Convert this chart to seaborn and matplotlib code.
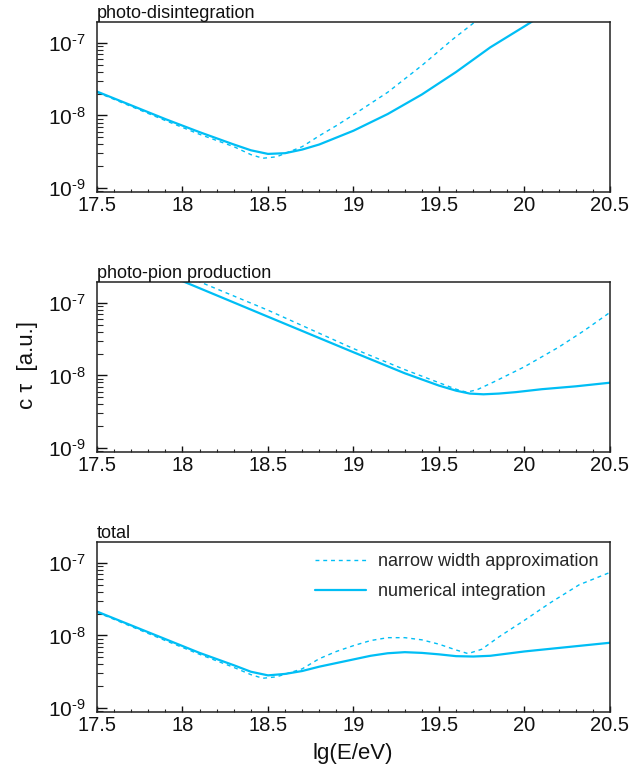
import numpy as np
import pandas as pd
import matplotlib
matplotlib.use("Agg")
import matplotlib.pyplot as plt
from matplotlib.ticker import MultipleLocator, FuncFormatter, LogLocator, NullFormatter, FixedLocator
import seaborn as sns

# ---- data: lg(E/eV) and log10(c*tau) for each process ----
# photo-disintegration
pd_num_lgE = [17.5, 17.7, 17.9, 18.1, 18.3, 18.4, 18.5, 18.6, 18.7, 18.8, 19.0, 19.2, 19.4, 19.6, 19.8, 20.0, 20.1]
pd_num_lgct = [-7.67, -7.86, -8.05, -8.23, -8.40, -8.48, -8.53, -8.52, -8.47, -8.40, -8.21, -7.98, -7.71, -7.40, -7.06, -6.77, -6.62]
pd_nwa_lgE = [17.5, 17.9, 18.1, 18.3, 18.4, 18.47, 18.55, 18.7, 18.8, 18.9, 19.0, 19.2, 19.4, 19.58, 19.71, 19.8]
pd_nwa_lgct = [-7.68, -8.07, -8.26, -8.43, -8.54, -8.59, -8.57, -8.43, -8.28, -8.14, -7.99, -7.68, -7.31, -6.95, -6.71, -6.55]

# photo-pion production
pi_num_lgE = [17.9, 18.5, 19.0, 19.3, 19.5, 19.6, 19.68, 19.76, 19.85, 19.95, 20.1, 20.3, 20.5]
pi_num_lgct = [-6.60, -7.19, -7.68, -7.97, -8.14, -8.21, -8.25, -8.26, -8.25, -8.23, -8.19, -8.15, -8.10]
pi_nwa_lgE = [18.0, 18.5, 19.0, 19.3, 19.5, 19.6, 19.66, 19.72, 19.82, 20.0, 20.2, 20.35, 20.5]
pi_nwa_lgct = [-6.61, -7.10, -7.63, -7.92, -8.10, -8.19, -8.23, -8.20, -8.09, -7.88, -7.61, -7.38, -7.13]

# total
tot_num_lgE = [17.5, 17.9, 18.1, 18.3, 18.4, 18.5, 18.6, 18.7, 18.8, 18.9, 19.0, 19.1, 19.2, 19.3,
               19.4, 19.5, 19.6, 19.7, 19.8, 19.9, 20.0, 20.25, 20.5]
tot_num_lgct = [-7.67, -8.05, -8.24, -8.41, -8.50, -8.55, -8.53, -8.49, -8.43, -8.38, -8.33, -8.28, -8.245, -8.23,
                -8.24, -8.26, -8.285, -8.29, -8.28, -8.25, -8.22, -8.16, -8.10]
tot_nwa_lgE = [17.5, 17.9, 18.1, 18.3, 18.4, 18.47, 18.55, 18.7, 18.8, 18.9, 19.0, 19.1, 19.2, 19.3,
               19.4, 19.5, 19.6, 19.67, 19.75, 19.85, 20.0, 20.15, 20.32, 20.5]
tot_nwa_lgct = [-7.68, -8.07, -8.26, -8.44, -8.54, -8.59, -8.57, -8.46, -8.32, -8.22, -8.14, -8.07, -8.03, -8.03,
                -8.06, -8.12, -8.20, -8.25, -8.19, -8.02, -7.79, -7.55, -7.30, -7.13]

panel_titles = ["photo-disintegration", "photo-pion production", "total"]
method_labels = ["narrow width approximation", "numerical integration"]
x_ticks = [17.5, 18.0, 18.5, 19.0, 19.5, 20.0, 20.5]
y_decades = [-9, -8, -7]

panels = [
    ((pd_nwa_lgE, pd_nwa_lgct), (pd_num_lgE, pd_num_lgct)),
    ((pi_nwa_lgE, pi_nwa_lgct), (pi_num_lgE, pi_num_lgct)),
    ((tot_nwa_lgE, tot_nwa_lgct), (tot_num_lgE, tot_num_lgct)),
]

sns.set_theme(style="ticks")
plt.rcParams["font.family"] = ["Liberation Sans", "DejaVu Sans"]
plt.rcParams["mathtext.fontset"] = "custom"
plt.rcParams["mathtext.rm"] = "Liberation Sans"
plt.rcParams["mathtext.it"] = "Liberation Sans:italic"
plt.rcParams["mathtext.default"] = "regular"


def decade_label(v, pos):
    e = int(round(np.log10(v)))
    sign = "\u2010" if e < 0 else ""
    return "$10^{" + sign + str(abs(e)) + "}$"


line_color = "#00BEF5"
fig = plt.figure(figsize=(6.44, 7.68), dpi=100)

left, width, height = 0.1506, 0.7966, 0.2214
bottoms = [0.750, 0.4115, 0.0729]

axes = []
for i, (bottom, title, (nwa, num)) in enumerate(zip(bottoms, panel_titles, panels)):
    ax = fig.add_axes([left, bottom, width, height])
    df_nwa = pd.DataFrame({"lgE": nwa[0], "ctau": np.power(10.0, nwa[1])})
    df_num = pd.DataFrame({"lgE": num[0], "ctau": np.power(10.0, num[1])})
    sns.lineplot(data=df_nwa, x="lgE", y="ctau", ax=ax, color=line_color, lw=1.0,
                 linestyle=(0, (2.8, 2.8)), legend=False, sort=False)
    sns.lineplot(data=df_num, x="lgE", y="ctau", ax=ax, color=line_color, lw=1.6,
                 legend=False, sort=False)
    ax.set_yscale("log")
    ax.set_xlim(17.5, 20.5)
    ax.set_ylim(8.8e-10, 1.95e-7)
    ax.set_xlabel("")
    ax.set_ylabel("")
    ax.set_title(title, loc="left", fontsize=13, pad=3, color="#111111")

    ax.xaxis.set_major_locator(FixedLocator(x_ticks))
    ax.xaxis.set_minor_locator(MultipleLocator(0.1))
    ax.xaxis.set_major_formatter(FuncFormatter(lambda v, p: f"{v:g}"))
    ax.yaxis.set_major_locator(FixedLocator([10.0 ** d for d in y_decades]))
    ax.yaxis.set_major_formatter(FuncFormatter(decade_label))
    ax.yaxis.set_minor_locator(LogLocator(base=10, subs=np.arange(2, 10), numticks=10))
    ax.yaxis.set_minor_formatter(NullFormatter())
    ax.xaxis.set_minor_formatter(NullFormatter())

    ax.tick_params(axis="x", which="major", direction="in", length=4.3, width=1.0,
                   labelsize=14.5, pad=3, top=False, colors="#111111")
    ax.tick_params(axis="x", which="minor", direction="in", length=2.2, width=0.8, top=False)
    ax.tick_params(axis="y", which="major", direction="in", length=7.5, width=1.0,
                   labelsize=15, pad=8, right=False, colors="#111111")
    ax.tick_params(axis="y", which="minor", direction="in", length=4.0, width=0.8, right=False)
    for s in ax.spines.values():
        s.set_visible(True)
        s.set_linewidth(1.1)
        s.set_color("#222222")
    axes.append(ax)

ax3 = axes[2]
handles = [ax3.lines[0], ax3.lines[1]]
ax3.legend(handles=handles, labels=method_labels, loc="upper left",
           bbox_to_anchor=(0.425, 0.935), frameon=False, fontsize=13,
           handlelength=2.8, handletextpad=0.7, labelspacing=0.72,
           borderpad=0, borderaxespad=0)

fig.text(0.042, 0.525, "c τ  [a.u.]", rotation=90, ha="center", va="center",
         fontsize=16, color="#111111")
fig.text(0.548, 0.019, "lg(E/eV)", ha="center", va="center", fontsize=16, color="#111111")

fig.savefig("out.png", dpi=100)
